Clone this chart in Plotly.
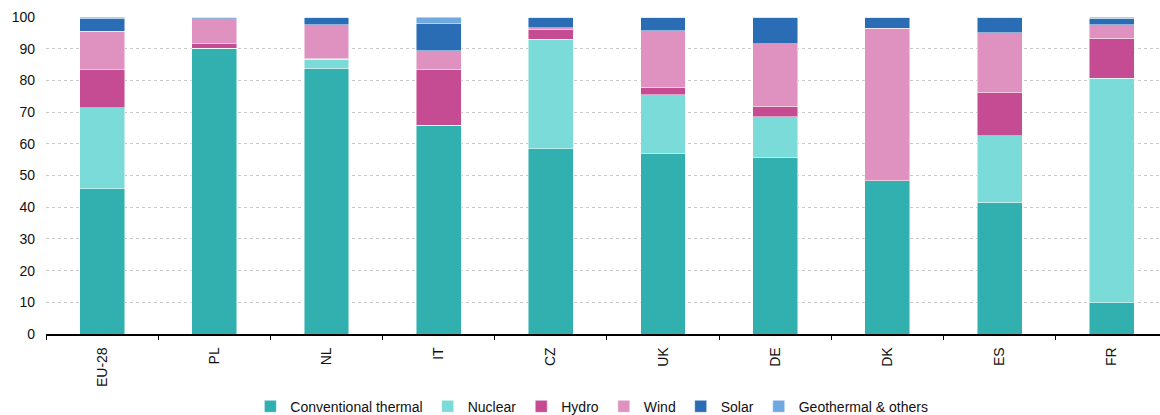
import plotly.graph_objects as go

countries = ["EU-28", "PL", "NL", "IT", "CZ", "UK", "DE", "DK", "ES", "FR"]
conventional_thermal = [45.8, 90.1, 83.9, 65.9, 58.4, 56.8, 55.8, 48.3, 41.6, 9.8]
nuclear = [25.6, 0.0, 2.8, 0.0, 34.6, 18.6, 12.7, 0.0, 20.9, 70.9]
hydro = [11.9, 1.5, 0.1, 17.6, 3.1, 2.4, 3.4, 0.1, 13.6, 12.6]
wind = [12.2, 7.9, 10.7, 5.9, 0.5, 17.9, 19.7, 48.1, 18.9, 4.3]
solar = [4.0, 0.3, 2.5, 8.5, 3.4, 4.3, 8.1, 3.5, 5.0, 2.0]
geothermal_others = [0.5, 0.2, 0.0, 2.1, 0.0, 0.0, 0.3, 0.0, 0.0, 0.4]

series = [
    ("Conventional thermal", conventional_thermal, "#32b0b0"),
    ("Nuclear", nuclear, "#7bdbd9"),
    ("Hydro", hydro, "#c54b93"),
    ("Wind", wind, "#df92c0"),
    ("Solar", solar, "#2a6db5"),
    ("Geothermal & others", geothermal_others, "#70a8e0"),
]

fig = go.Figure()
for name, vals, col in series:
    fig.add_trace(go.Bar(
        x=countries, y=vals, name=name,
        marker=dict(color=col, line=dict(color="rgba(255,255,255,0.6)", width=0.8)),
    ))

fig.update_layout(
    barmode="stack",
    bargap=0.6,
    width=1160, height=415,
    margin=dict(l=46, r=0, t=17, b=81, autoexpand=False),
    paper_bgcolor="white", plot_bgcolor="white",
    font=dict(family="Liberation Sans, Arial, sans-serif", size=14, color="#111"),
    showlegend=True,
    legend=dict(
        orientation="h", x=0.49, xanchor="center",
        yref="container", y=0.02, yanchor="middle",
        font=dict(family="Liberation Sans, Arial, sans-serif", size=14, color="#111"),
        itemwidth=30, traceorder="normal",
    ),
    xaxis=dict(
        type="category",
        range=[-0.5, 9.43],
        automargin=False,
        showline=True, linecolor="#000", linewidth=1.5,
        ticks="outside", tickson="boundaries", ticklen=4, tickcolor="#000",
        tickangle=-90, tickfont=dict(size=14, color="#111"),
        ticklabelstandoff=6,
        showgrid=False,
    ),
    yaxis=dict(
        range=[0, 100], dtick=10,
        automargin=False,
        showgrid=True, gridcolor="#c8c8c8", griddash="dot", gridwidth=1,
        zeroline=False, showline=False,
        tickfont=dict(size=14, color="#111"),
        ticks="", ticklabelstandoff=10,
    ),
)

fig.write_html("out.html")
